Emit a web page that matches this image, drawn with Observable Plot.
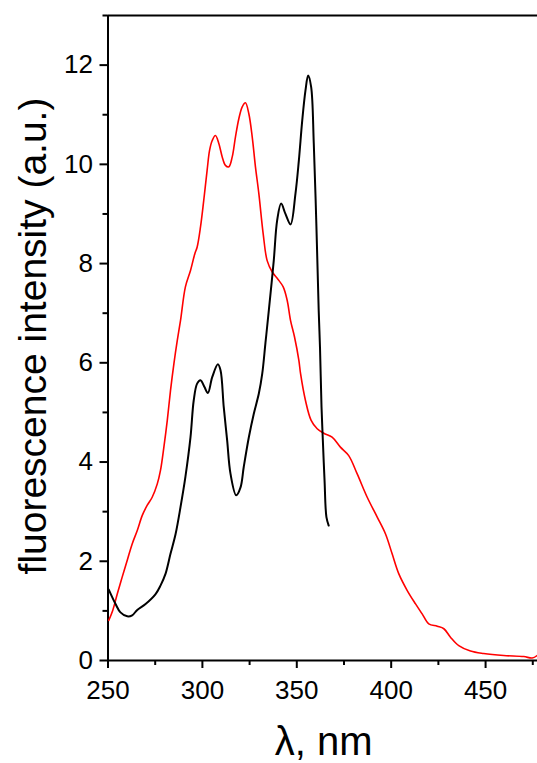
<!DOCTYPE html>
<html><head><meta charset="utf-8">
<script src="https://cdn.jsdelivr.net/npm/d3@7"></script>
<script src="https://cdn.jsdelivr.net/npm/@observablehq/plot@0.6"></script>
<style>body{margin:0;background:#fff}</style>
</head><body><div id="chart"></div>
<script>
// Black curve: wavelength (nm) and intensity (a.u.)
const blackWavelength = [250.4,254,256.6,260.2,262.8,265.5,269.9,275.2,277.8,280.5,283.1,285.8,288.4,291,293.7,295.4,297.2,299,301.1,302.9,305.2,308.2,309.6,311.3,313.1,314.9,317.9,320.2,321.9,324.6,327.2,329.9,331.7,333.4,335.2,337.8,339.6,341.7,344,346.7,349.3,351.1,352.9,354.6,356,357.6,359,360.4,361.6,362.3,363.1,363.8,364.7,365.7,366.9];
const blackIntensity = [1.43,1.14,0.97,0.89,0.91,1.02,1.14,1.34,1.51,1.75,2.15,2.55,3.09,3.70,4.50,5.24,5.58,5.65,5.51,5.39,5.71,5.97,5.85,5.11,4.44,3.76,3.33,3.49,3.90,4.50,4.97,5.38,5.78,6.4,7.06,8.06,8.87,9.21,9.00,8.79,9.41,10.08,10.89,11.49,11.79,11.56,10.42,8.74,7.06,6.3,5.11,4.44,3.63,2.89,2.72];
// Red curve
const redWavelength = [250.4,252.5,254.9,257.5,260.2,262.8,265.5,268.1,270.8,273.4,276.1,277.8,279.6,281.4,283.1,284.9,286.7,288.4,291,293.7,296,297.2,299,300.7,302.5,303.8,305.2,306.9,308.7,310.5,312.2,314,315.8,317.5,319.3,321.1,322.8,324.6,326.4,328.1,329.9,332.2,334.3,337,339.9,342.8,344.9,346.7,348.8,351.1,352,354.6,357.6,360.8,364.3,368.7,373.1,377.5,382,387.3,392.6,397,400.5,404,408.5,412.9,416.4,419.9,424.4,427.9,431.4,435.8,442,449,459.6,470.2,474.7,477.3];
const redIntensity = [0.81,1.01,1.34,1.68,2.02,2.35,2.62,2.92,3.13,3.29,3.56,3.83,4.30,4.84,5.44,5.98,6.45,6.85,7.53,7.86,8.20,8.33,8.74,9.27,9.88,10.28,10.48,10.58,10.42,10.15,9.98,9.95,10.15,10.55,10.92,11.16,11.24,11.02,10.55,9.95,9.41,8.60,8.06,7.83,7.69,7.53,7.26,6.85,6.52,6.05,5.78,5.24,4.84,4.67,4.58,4.50,4.30,4.13,3.76,3.29,2.89,2.55,2.15,1.75,1.41,1.14,0.94,0.74,0.69,0.64,0.47,0.30,0.19,0.14,0.10,0.08,0.05,0.10];

const xMajorTicks = [250,300,350,400,450];
const xMinorTicks = [275,325,375,425,475];
const yMajorTicks = [0,2,4,6,8,10,12];
const yMinorTicks = [1,3,5,7,9,11,13];
const xTitle = "λ, nm";
const yTitle = "fluorescence intensity (a.u.)";

const black = blackWavelength.map((x, i) => ({x, y: blackIntensity[i]}));
const red = redWavelength.map((x, i) => ({x, y: redIntensity[i]}));

const chart = Plot.plot({
  width: 537,
  height: 763,
  marginLeft: 107.5,
  marginRight: 0,
  marginTop: 15,
  marginBottom: 103,
  x: {domain: [250, 477.5]},
  y: {domain: [0, 13]},
  style: {fontFamily: "'Liberation Sans', Arial, sans-serif", fontSize: "26px", color: "black", background: "white"},
  marks: [
    Plot.axisX({ticks: xMajorTicks, tickSize: 8, tickPadding: 12, strokeWidth: 2, label: null, fontSize: 26}),
    Plot.axisX({ticks: xMinorTicks, tickSize: 5, strokeWidth: 2, tickFormat: () => "", label: null}),
    Plot.axisY({ticks: yMajorTicks, tickSize: 8, tickPadding: 7, strokeWidth: 2, label: null, fontSize: 26}),
    Plot.axisY({ticks: yMinorTicks, tickSize: 5, strokeWidth: 2, tickFormat: () => "", label: null}),
    Plot.ruleY([0], {strokeWidth: 2}),
    Plot.ruleY([13], {strokeWidth: 2}),
    Plot.ruleX([250], {strokeWidth: 2}),
    Plot.line(red, {x: "x", y: "y", stroke: "#ff0000", strokeWidth: 1.6, curve: "catmull-rom"}),
    Plot.line(black, {x: "x", y: "y", stroke: "#000000", strokeWidth: 2, curve: "catmull-rom"}),
    Plot.text([xTitle], {text: d => d, frameAnchor: "bottom", textAnchor: "middle", lineAnchor: "bottom", dy: 94, dx: 1, fontSize: 40}),
    Plot.text([yTitle], {text: d => d, frameAnchor: "left", textAnchor: "middle", rotate: -90, lineAnchor: "bottom", dx: -62, dy: -2, fontSize: 39})
  ]
});
document.getElementById("chart").appendChild(chart);
</script>
</body></html>
